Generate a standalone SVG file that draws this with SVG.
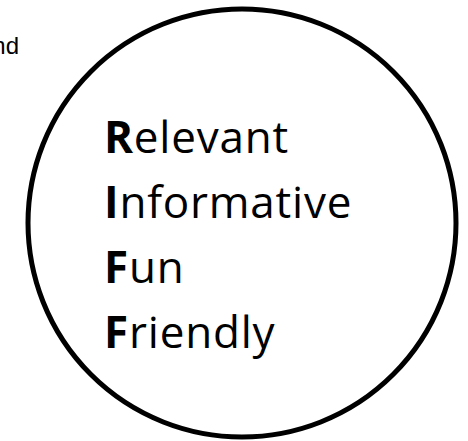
<svg xmlns="http://www.w3.org/2000/svg" width="468" height="441" viewBox="0 0 468 441">
<style>
.t{font-family:"Open Sans","Noto Sans",sans-serif;font-size:44px;letter-spacing:0.8px;fill:#000}
.b{font-weight:bold}
.s{font-family:"Liberation Sans",Arial,sans-serif;font-size:24px;fill:#000}
</style>
<rect width="468" height="441" fill="#fff"/>
<text class="s" x="19" y="54" text-anchor="end">nd</text>
<g id="circle">
<circle cx="242" cy="223" r="214" fill="none" stroke="#000" stroke-width="5"/>
<text class="t" x="104" y="152.5"><tspan class="b">R</tspan>elevant</text>
<text class="t" x="104" y="217.5"><tspan class="b">I</tspan>nformative</text>
<text class="t" x="104" y="282.5"><tspan class="b">F</tspan>un</text>
<text class="t" x="104" y="347.5"><tspan class="b">F</tspan>riendly</text>
</g>
</svg>
